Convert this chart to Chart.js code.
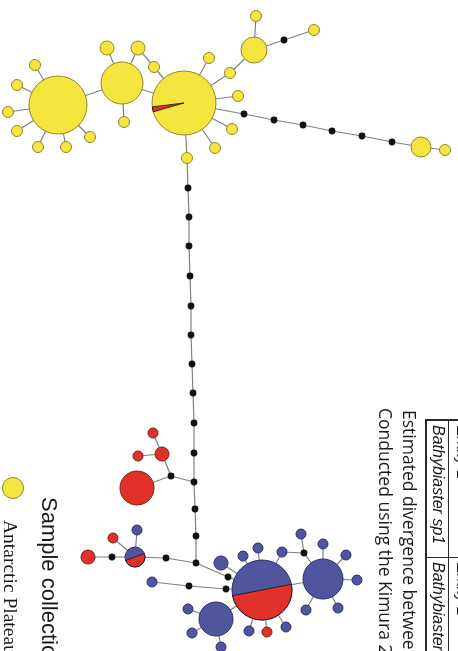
<!DOCTYPE html>
<html>
<head>
<meta charset="utf-8">
<title>Haplotype network</title>
<script src="https://cdn.jsdelivr.net/npm/chart.js@4.4.0/dist/chart.umd.min.js"></script>
<style>
  html, body { margin: 0; padding: 0; background: #fff; overflow: hidden; }
  #wrap { position: relative; width: 458px; height: 651px; overflow: hidden; }
  #net { position: absolute; left: 0; top: 0; }
  .vt { position: absolute; writing-mode: vertical-rl; white-space: nowrap; color: #1a1a1a; }
  .rule { position: absolute; background: #2a2a2a; }
  .swatch { position: absolute; border-radius: 50%; box-sizing: border-box; }
</style>
</head>
<body>
<div id="wrap">
  <canvas id="net" width="458" height="651"></canvas>

  <!-- legend, rotated like the rest of the figure -->
  <div class="swatch" style="left:2px; top:477px; width:22px; height:22px; background:#F5E53F; border:1px solid #8f8526;"></div>
  <div class="vt" style="left:36px; top:497px; line-height:26px; width:26px; font:22px 'Liberation Sans', Arial, sans-serif;">Sample collection</div>
  <div class="vt" style="left:-1px; top:520px; line-height:22px; width:22px; font:19.5px 'Liberation Serif', 'Times New Roman', serif;">Antarctic Plateau</div>

  <!-- caption + table -->
  <div class="vt" style="left:374px; top:408px; line-height:24px; width:24px; font:17.5px 'Open Sans', sans-serif;">Conducted using the Kimura 2-parameter model</div>
  <div class="vt" style="left:398px; top:410px; line-height:24px; width:24px; font:17.5px 'Open Sans', sans-serif;">Estimated divergence between species</div>

  <div class="rule" style="left:425px; top:419px; width:33px; height:1.5px;"></div>
  <div class="rule" style="left:425px; top:419px; width:1.5px; height:232px;"></div>
  <div class="rule" style="left:448px; top:419px; width:1.2px; height:232px;"></div>
  <div class="rule" style="left:425px; top:557px; width:33px; height:1.2px;"></div>
  <div class="vt" style="left:427px; top:425px; line-height:20px; width:20px; font:italic 16px 'Liberation Sans', Arial, sans-serif;">Bathybiaster sp1</div>
  <div class="vt" style="left:427px; top:562px; line-height:20px; width:20px; font:italic 16px 'Liberation Sans', Arial, sans-serif;">Bathybiaster sp2</div>
  <div class="vt" style="left:451px; top:425px; line-height:20px; width:20px; font:16px 'Liberation Sans', Arial, sans-serif;">Entity 1</div>
  <div class="vt" style="left:451px; top:562px; line-height:20px; width:20px; font:16px 'Liberation Sans', Arial, sans-serif;">Entity 2</div>
</div>

<script>
// haplotypes: [id, x, y, radius]  (radius ~ sample frequency)
const yellowHaps = [
  ['Y1', 58, 105, 29], ['Y2', 122, 83, 21], ['Y3', 184, 103, 32], ['Y4', 254, 50, 13], ['Y5', 421, 147, 10],
  ['a1', 35, 65, 5.5], ['a2', 17, 85, 5.5], ['a3', 8, 112, 5.5], ['a4', 17, 131, 5.5],
  ['a5', 38, 147, 5.5], ['a6', 66, 147, 5.5], ['a7', 90, 137, 5.5],
  ['b1', 107, 48, 7], ['b2', 138, 48, 7], ['b3', 124, 122, 5.5], ['b4', 154, 67, 5.5],
  ['c1', 209, 58, 5.5], ['c2', 230, 73, 5.5], ['c3', 238, 96, 5.5], ['c4', 232, 129, 5.5],
  ['c5', 215, 148, 5.5], ['c6', 187, 158, 5.5],
  ['d1', 256, 16, 5.5], ['d2', 314, 30, 5.5], ['e1', 445, 150, 5.5]
];

const redHaps = [
  ['R1', 137, 488, 17], ['r2', 162, 454, 7], ['r3', 153, 433, 5], ['r4', 138, 456, 5],
  ['r5', 113, 538, 5], ['r6', 88, 557, 7], ['r7', 267, 632, 5]
];

const blueHaps = [
  ['F', 262, 590, 30], ['G', 323, 579, 20], ['H', 216, 619, 17], ['P', 135, 557, 10],
  ['p1', 137, 530, 5], ['u1', 152, 582, 5],
  ['f1', 221, 563, 7], ['f2', 243, 556, 5], ['f3', 258, 548, 5], ['f4', 282, 552, 5],
  ['f5', 301, 534, 5], ['f6', 249, 631, 5], ['f8', 286, 627, 5],
  ['g1', 323, 544, 5], ['g2', 346, 555, 5], ['g3', 357, 580, 5], ['g4', 338, 608, 5], ['g5', 306, 610, 5],
  ['h1', 188, 609, 5], ['h2', 192, 633, 5], ['h3', 221, 647, 5]
];

// median vectors / missing haplotypes: [id, x, y]
const medianVectors = [
  ['m1', 284, 40], ['m2', 244, 114], ['m3', 274, 120], ['m4', 303, 125],
  ['m5', 332, 131], ['m6', 362, 136], ['m7', 392, 142],
  ['v1', 188, 188], ['v2', 189, 217], ['v3', 189, 246], ['v4', 190, 276], ['v5', 191, 306],
  ['v6', 191, 335], ['v7', 192, 364], ['v8', 193, 393], ['v9', 194, 423], ['v10', 194, 453],
  ['v11', 194, 482], ['v12', 195, 509], ['v13', 196, 536], ['v14', 196, 563],
  ['k1', 171, 476], ['k2', 166, 558], ['k3', 112, 557], ['k4', 228, 577],
  ['k5', 189, 586], ['k6', 226, 589], ['k7', 304, 553]
];

// mutational steps between haplotypes
const links = [
  ['Y1', 'a1'], ['Y1', 'a2'], ['Y1', 'a3'], ['Y1', 'a4'], ['Y1', 'a5'], ['Y1', 'a6'], ['Y1', 'a7'],
  ['Y1', 'Y2'], ['Y2', 'b1'], ['Y2', 'b2'], ['b2', 'b4'], ['b4', 'Y3'], ['Y2', 'b3'], ['Y2', 'Y3'],
  ['Y3', 'c1'], ['Y3', 'c2'], ['c2', 'Y4'], ['Y3', 'c3'], ['Y3', 'c4'], ['Y3', 'c5'], ['Y3', 'c6'],
  ['Y4', 'd1'], ['Y4', 'm1'], ['m1', 'd2'],
  ['Y3', 'm2'], ['m2', 'm3'], ['m3', 'm4'], ['m4', 'm5'], ['m5', 'm6'], ['m6', 'm7'], ['m7', 'Y5'], ['Y5', 'e1'],
  ['c6', 'v1'], ['v1', 'v2'], ['v2', 'v3'], ['v3', 'v4'], ['v4', 'v5'], ['v5', 'v6'], ['v6', 'v7'],
  ['v7', 'v8'], ['v8', 'v9'], ['v9', 'v10'], ['v10', 'v11'], ['v11', 'v12'], ['v12', 'v13'], ['v13', 'v14'],
  ['v11', 'k1'], ['k1', 'R1'], ['k1', 'r2'], ['r2', 'r3'], ['r2', 'r4'],
  ['v14', 'k2'], ['k2', 'P'], ['P', 'p1'], ['P', 'r5'], ['P', 'k3'], ['k3', 'r6'],
  ['v14', 'k4'], ['k4', 'F'], ['u1', 'k5'], ['k5', 'k6'], ['k6', 'F'],
  ['F', 'f1'], ['F', 'f2'], ['F', 'f3'], ['F', 'f4'], ['f4', 'k7'], ['k7', 'f5'], ['k7', 'G'],
  ['F', 'f6'], ['F', 'r7'], ['F', 'f8'], ['F', 'G'], ['F', 'H'],
  ['G', 'g1'], ['G', 'g2'], ['G', 'g3'], ['G', 'g4'], ['G', 'g5'],
  ['H', 'h1'], ['H', 'h2'], ['H', 'h3']
];

// shared haplotypes: [id, minority group, share of minority, start angle in degrees]
const sharedHaps = [
  ['Y3', 'red', 0.025, 164],
  ['F', 'red', 0.5, -11],
  ['P', 'red', 0.5, -20]
];

const colors = {
  yellow: '#F5E53F', yellowLine: '#8f8526',
  red: '#E2312A', redLine: '#7a1c17',
  blue: '#50559E', blueLine: '#2b2f66',
  black: '#111111', edge: '#808080'
};

const lookup = {};
[...yellowHaps, ...redHaps, ...blueHaps].forEach(h => { lookup[h[0]] = { x: h[1], y: h[2], r: h[3] }; });
medianVectors.forEach(m => { lookup[m[0]] = { x: m[1], y: m[2], r: 3 }; });

const edgePoints = [];
links.forEach(([a, b]) => {
  edgePoints.push({ x: lookup[a].x, y: lookup[a].y });
  edgePoints.push({ x: lookup[b].x, y: lookup[b].y });
  edgePoints.push({ x: NaN, y: NaN });
});

const toBubbles = list => list.map(h => ({ x: h[1], y: h[2], r: h[3] }));

const piePlugin = {
  id: 'sharedHaplotypes',
  afterDatasetsDraw(chart) {
    const { ctx, scales } = chart;
    sharedHaps.forEach(([id, group, share, startDeg]) => {
      const n = lookup[id];
      const cx = scales.x.getPixelForValue(n.x);
      const cy = scales.y.getPixelForValue(n.y);
      const a0 = startDeg * Math.PI / 180;
      const a1 = a0 + share * Math.PI * 2;
      ctx.save();
      ctx.beginPath();
      ctx.moveTo(cx, cy);
      ctx.arc(cx, cy, n.r, a0, a1);
      ctx.closePath();
      ctx.fillStyle = colors[group];
      ctx.fill();
      ctx.lineWidth = 1;
      ctx.strokeStyle = 'rgba(30,20,20,0.85)';
      ctx.stroke();
      ctx.restore();
    });
  }
};

const netCtx = document.getElementById('net').getContext('2d');
new Chart(netCtx, {
  type: 'bubble',
  data: {
    datasets: [
      {
        type: 'line',
        data: edgePoints,
        borderColor: colors.edge,
        borderWidth: 1.2,
        pointRadius: 0,
        spanGaps: false,
        order: 5,
        clip: false
      },
      {
        data: toBubbles(yellowHaps),
        backgroundColor: colors.yellow,
        borderColor: colors.yellowLine,
        borderWidth: 1,
        order: 1,
        clip: false
      },
      {
        data: toBubbles(redHaps),
        backgroundColor: colors.red,
        borderColor: colors.redLine,
        borderWidth: 1,
        order: 1,
        clip: false
      },
      {
        data: toBubbles(blueHaps),
        backgroundColor: colors.blue,
        borderColor: colors.blueLine,
        borderWidth: 1,
        order: 1,
        clip: false
      },
      {
        data: medianVectors.map(m => ({ x: m[1], y: m[2], r: 3.4 })),
        backgroundColor: colors.black,
        borderColor: colors.black,
        borderWidth: 0,
        order: 1,
        clip: false
      }
    ]
  },
  options: {
    responsive: false,
    animation: false,
    events: [],
    layout: { padding: 0, autoPadding: false },
    scales: {
      x: { type: 'linear', min: 0, max: 458, display: false },
      y: { type: 'linear', min: 0, max: 651, reverse: true, display: false }
    },
    plugins: {
      legend: { display: false },
      tooltip: { enabled: false }
    }
  },
  plugins: [piePlugin]
});
</script>
</body>
</html>
